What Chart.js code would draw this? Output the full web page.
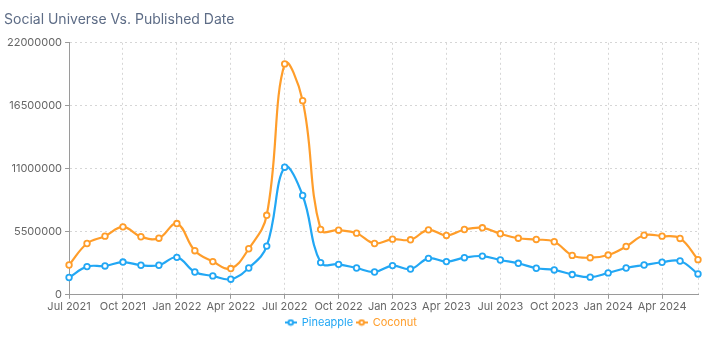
<!DOCTYPE html>
<html>
<head>
<meta charset="utf-8">
<script src="https://cdn.jsdelivr.net/npm/chart.js@4/dist/chart.umd.min.js"></script>
<style>
  html, body { margin: 0; padding: 0; background: #fff; }
  #wrap { width: 720px; height: 338px; }
</style>
</head>
<body>
<div id="wrap"><canvas id="myChart"></canvas></div>
<script>
// months, Jul 2021 -> Jun 2024
var months = [
  'Jul 2021','Aug 2021','Sep 2021','Oct 2021','Nov 2021','Dec 2021',
  'Jan 2022','Feb 2022','Mar 2022','Apr 2022','May 2022','Jun 2022',
  'Jul 2022','Aug 2022','Sep 2022','Oct 2022','Nov 2022','Dec 2022',
  'Jan 2023','Feb 2023','Mar 2023','Apr 2023','May 2023','Jun 2023',
  'Jul 2023','Aug 2023','Sep 2023','Oct 2023','Nov 2023','Dec 2023',
  'Jan 2024','Feb 2024','Mar 2024','Apr 2024','May 2024','Jun 2024'
]

var pineapple = [
  1510000, 2460000, 2520000, 2860000, 2580000, 2580000,
  3270000, 1990000, 1650000, 1360000, 2340000, 4250000,
  11140000, 8670000, 2810000, 2660000, 2340000, 1990000,
  2550000, 2250000, 3180000, 2900000, 3240000, 3380000,
  3040000, 2750000, 2320000, 2170000, 1770000, 1540000,
  1910000, 2340000, 2600000, 2840000, 2950000, 1820000
]

var coconut = [
  2600000, 4480000, 5120000, 5930000, 5070000, 4940000,
  6220000, 3850000, 2900000, 2290000, 4020000, 6940000,
  20160000, 16950000, 5700000, 5640000, 5380000, 4480000,
  4860000, 4800000, 5670000, 5180000, 5700000, 5850000,
  5330000, 4940000, 4830000, 4630000, 3440000, 3240000,
  3470000, 4220000, 5200000, 5120000, 4920000, 3070000
]

var yTicks = [0, 5500000, 11000000, 16500000, 22000000]

var blue = '#22a7f4'
var orange = '#ff9d2a'

// little legend icon: a line with a hollow dot
function legendIcon(color){
  var c = document.createElement('canvas')
  c.width = 12; c.height = 8
  var g = c.getContext('2d')
  g.strokeStyle = color
  g.lineWidth = 2
  g.beginPath(); g.moveTo(0, 4); g.lineTo(12, 4); g.stroke()
  g.fillStyle = '#fff'
  g.beginPath(); g.arc(6, 4, 2.3, 0, Math.PI * 2); g.fill(); g.stroke()
  return c
}

function mkSet(label, data, color){
  return {
    label: label,
    data: data,
    borderColor: color,
    backgroundColor: '#fff',
    pointBackgroundColor: '#fff',
    pointBorderColor: color,
    pointBorderWidth: 1.8,
    pointRadius: 2.8,
    borderWidth: 2.2,
    tension: 0.4,
    fill: false
  }
}

var last = months.length - 1
var gridCol = '#d6d6d6'

new Chart(document.getElementById('myChart'), {
  type: 'line',
  data: {
    labels: months,
    datasets: [mkSet('Pineapple', pineapple, blue), mkSet('Coconut', coconut, orange)]
  },
  options: {
    responsive: true,
    maintainAspectRatio: false,
    animation: false,
    layout: { padding: { left: 4, right: 22, top: 4, bottom: 0 } },
    plugins: {
      title: {
        display: true,
        text: 'Social Universe Vs. Published Date',
        align: 'start',
        color: '#5d6c86',
        font: { family: 'Inter', size: 14, weight: 'normal' },
        padding: { top: 7, bottom: 15 }
      },
      legend: {
        position: 'bottom',
        labels: {
          usePointStyle: true,
          font: { family: 'Inter', size: 11 },
          padding: 3,
          generateLabels: function(chart){
            return chart.data.datasets.map(function(ds, i){
              return {
                text: ds.label,
                fontColor: ds.borderColor,
                pointStyle: legendIcon(ds.borderColor),
                datasetIndex: i,
                hidden: false,
                lineWidth: 0
              }
            })
          }
        }
      },
      tooltip: { enabled: false }
    },
    scales: {
      x: {
        type: 'category',
        offset: false,
        border: { display: true, color: '#9a9a9a', width: 1, dash: [2, 3] },
        grid: {
          color: function(ctx){
            return (ctx.index % 3 === 0 || ctx.index === last) ? gridCol : 'rgba(0,0,0,0)'
          },
          tickColor: function(ctx){
            return (ctx.index % 3 === 0) ? '#9a9a9a' : 'rgba(0,0,0,0)'
          },
          tickBorderDash: [],
          tickLength: 4,
          drawTicks: true
        },
        ticks: {
          autoSkip: false,
          maxRotation: 0,
          color: '#666',
          font: { family: 'Inter', size: 11 },
          padding: 1,
          callback: function(v, i){
            return i % 3 === 0 ? months[i] : ''
          }
        }
      },
      y: {
        min: 0,
        max: 22000000,
        border: { display: true, color: '#9a9a9a', width: 1, dash: [2, 3] },
        afterBuildTicks: function(axis){
          axis.ticks = yTicks.map(function(v){ return { value: v } })
        },
        grid: {
          color: gridCol,
          tickColor: '#9a9a9a',
          tickBorderDash: [],
          tickLength: 4
        },
        ticks: {
          color: '#666',
          font: { family: 'Inter', size: 11 },
          padding: 3,
          callback: function(v){ return String(v) }
        }
      }
    }
  }
})
</script>
</body>
</html>
